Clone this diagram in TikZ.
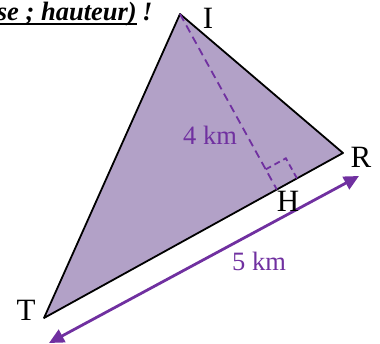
\documentclass[tikz,border=0pt]{standalone}
\usepackage{fontspec}
\setmainfont{Liberation Serif}
\usetikzlibrary{arrows.meta, positioning, calc}
\definecolor{lilac}{HTML}{B2A1C7}
\definecolor{plum}{HTML}{7030A0}

\begin{document}
\begin{tikzpicture}[
    x=1pt, y=-1pt,
    >={Triangle[length=15pt, width=14pt]},
    vlab/.style={font=\fontsize{31}{33}\selectfont, inner sep=0pt},
    dist/.style={font=\fontsize{26.5}{29}\selectfont, text=plum, inner sep=0pt},
    head/.style={font=\fontsize{26.5}{29}\selectfont\bfseries\itshape, inner sep=0pt},
    tri/.style={draw=black, line width=1.8pt, line join=round, fill=lilac},
    hgt/.style={draw=plum, line width=1.8pt, dash pattern=on 8pt off 5pt},
    dimline/.style={<->, draw=plum, line width=2.8pt},
  ]
  \useasboundingbox (0,0) rectangle (380,344);
  % ---- heading, cut by the frame
  \node[head, anchor=base east] (title) at (137,21) {se ; hauteur)};
  \node[head, base right=5pt of title] (bang) {!};
  \draw[line width=2pt] ([yshift=-3.5pt]title.base west) -- ([yshift=-3.5pt]title.base east);
  % ---- triangle
  \coordinate (I) at (180,14);
  \coordinate (R) at (343,153);
  \coordinate (T) at (44,318);
  \coordinate (H) at ($(T)!(I)!(R)$);
  \filldraw[tri] (T) -- (I) -- (R) -- cycle;
  % ---- height and right angle
  \draw[hgt] (I) -- (H);
  \coordinate (hu) at ($(H)!23pt!(I)$);
  \coordinate (hr) at ($(H)!23pt!(R)$);
  \draw[hgt, dash pattern=on 6pt off 4pt] (hu) -- ($(hu)+(hr)-(H)$) -- (hr);
  % ---- base length
  \coordinate (b1) at (49,343);
  \coordinate (b2) at (359,176);
  \draw[dimline] (b1) -- (b2);
  % ---- labels
  \node[vlab] (lI) at (208,18) {I};
  \node[vlab] (lR) at (361,157) {R};
  \node[vlab] (lT) at (26,310) {T};
  \node[vlab] (lH) at (288,201) {H};
  \node[dist] (hk) at (210,135) {4 km};
  \node[dist] (bk) at (259,261) {5 km};
\end{tikzpicture}
\end{document}
